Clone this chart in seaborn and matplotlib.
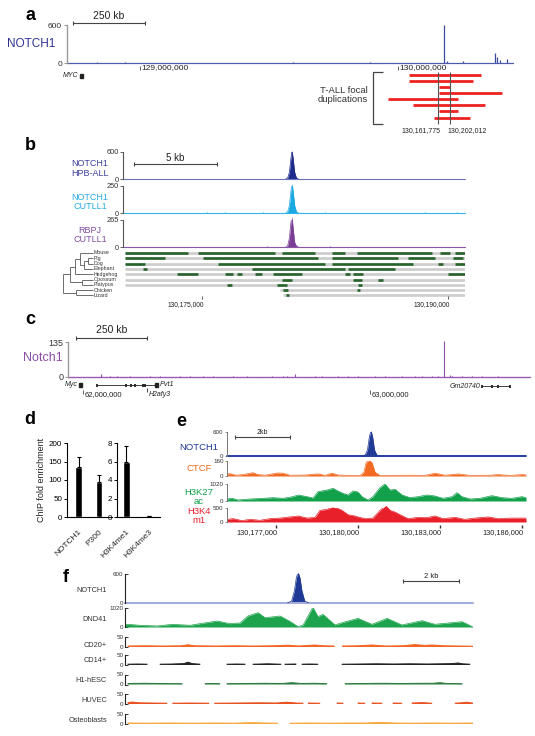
import numpy as np
import pandas as pd
import matplotlib
matplotlib.use("Agg")
import matplotlib.pyplot as plt
from matplotlib.patches import Rectangle
import seaborn as sns

sns.set_theme(style="white")
plt.rcParams["font.family"] = ["Liberation Sans", "DejaVu Sans"]

nan = np.nan

# ======================= DATA =======================
# (a) NOTCH1 ChIP-seq, human chr8 (Mb, signal)
a_pos = [128.833, 128.942, 128.992, 129.593, 129.744, 129.891, 130.178, 130.190, 130.252, 130.376, 130.384, 130.395, 130.422]
a_val = [8, 8, 6, 8, 6, 8, 600, 32, 25, 163, 90, 40, 58]
a_ticks = [129.0, 130.0]
a_ticklabels = ["129,000,000", "130,000,000"]
a_myc = (128.767, 128.779)
# T-ALL focal duplications (Mb)
dup_row = [1, 2, 3, 4, 5, 6, 7, 8]
dup_start = [130.064, 130.064, 130.165, 130.165, 129.994, 130.078, 130.165, 130.148]
dup_end = [130.306, 130.279, 130.202, 130.377, 130.229, 130.319, 130.229, 130.269]
dup_marks = [130.161775, 130.202012]
dup_labels = ["130,161,775", "130,202,012"]

# (b) ChIP-seq tracks (kb)
b_names = ["NOTCH1\nHPB-ALL", "NOTCH1\nCUTLL1", "RBPJ\nCUTLL1"]
b_max = [600, 250, 265]
b_peak_x = [130180.10, 130180.22, 130180.33, 130180.42, 130180.49, 130180.56, 130180.65, 130180.76, 130180.88]
b_peak_y = [[0, 20, 150, 450, 640, 450, 150, 20, 0],
            [0, 10, 70, 200, 275, 200, 70, 10, 0],
            [0, 10, 90, 240, 300, 180, 45, 8, 0]]
b_bump_x = [[], [130175.30, 130176.40, 130178.72, 130182.50, 130188.60, 130190.55], [130178.96, 130182.80]]
b_bump_y = [[], [8, 8, 8, 8, 10, 10], [8, 8]]
b_ticks = [130175.0, 130190.0]
b_ticklabels = ["130,175,000", "130,190,000"]
species = ["Mouse", "Pig", "Dog", "Elephant", "Hedgehog", "Opossum", "Platypus", "Chicken", "Lizard"]
align_start = [130170.30, 130170.30, 130170.30, 130170.30, 130170.30, 130170.30, 130170.30, 130179.76, 130179.94]
cons_blocks = {
    "Mouse": [(130170.30, 130174.15), (130174.76, 130179.45), (130179.88, 130181.89), (130182.93, 130183.72),
              (130184.45, 130189.02), (130189.51, 130190.12), (130190.43, 130191.04)],
    "Pig": [(130170.30, 130172.74), (130175.06, 130182.07), (130182.93, 130186.95), (130187.56, 130189.21),
            (130190.30, 130190.91)],
    "Dog": [(130170.30, 130171.52), (130175.98, 130182.50), (130182.93, 130187.87), (130189.39, 130189.70),
            (130190.43, 130191.04)],
    "Elephant": [(130171.40, 130171.65), (130178.05, 130183.72), (130183.90, 130186.77)],
    "Hedgehog": [(130173.48, 130174.76), (130176.40, 130176.89), (130177.13, 130177.44), (130178.23, 130178.66),
                 (130179.33, 130181.10), (130183.72, 130184.02), (130184.21, 130184.82), (130190.00, 130191.04)],
    "Opossum": [(130179.88, 130180.49), (130184.21, 130184.76), (130185.73, 130186.04)],
    "Platypus": [(130176.52, 130176.83), (130179.57, 130180.18), (130184.51, 130184.76)],
    "Chicken": [(130179.94, 130180.24), (130184.45, 130184.63)],
    "Lizard": [(130180.12, 130180.30)],
}

# (c) mouse Notch1 ChIP-seq (Mb)
c_pos = [62.063, 62.094, 62.118, 62.164, 62.233, 62.268, 62.338, 62.373, 62.418, 62.453, 62.523, 62.571,
         62.659, 62.697, 62.711, 62.739, 62.808, 62.833, 62.889, 62.923, 62.958, 63.017, 63.052, 63.111,
         63.157, 63.181, 63.216, 63.237, 63.258, 63.279, 63.286, 63.321, 63.355, 63.390, 63.446]
c_val = [12, 3, 4, 3, 4, 3, 4, 3, 4, 3, 4, 3,
         3, 4, 3, 11, 4, 3, 4, 3, 4, 3, 4, 3,
         4, 3, 4, 3, 140, 8, 4, 3, 4, 3, 3]
c_ticks = [62.0, 63.0]
c_ticklabels = ["62,000,000", "63,000,000"]
c_myc = (61.986, 61.997)
pvt1_span = (62.049, 62.252)
pvt1_exons = [62.049, 62.150, 62.167, 62.181, 62.209, 62.216]
pvt1_last = (62.250, 62.260)
h2afy3_pos = 62.223
gm_span = (63.390, 63.488)
gm_exons = [63.390, 63.425, 63.446, 63.488]

# (d) ChIP-qPCR fold enrichment
d_left_names = ["NOTCH1", "P300"]
d_left_vals = [136, 95.5]
d_left_err = [26, 17.5]
d_right_names = ["H3K4me1", "H3K4me3"]
d_right_vals = [5.95, 0.06]
d_right_err = [1.75, 0.0]

# (e) tracks (kb)
e_names = ["NOTCH1", "CTCF", "H3K27\nac", "H3K4\nm1"]
e_max = [600, 160, 1020, 500]
e_notch_x = [130180.17, 130180.27, 130180.35, 130180.42, 130180.48, 130180.54, 130180.61, 130180.69, 130180.79]
e_notch_y = [0, 30, 150, 480, 640, 480, 150, 30, 0]
e_ctcf_x = [130175.21, 130175.32, 130175.54, 130175.79, 130176.16, 130176.34, 130176.60, 130177.04, 130177.26,
            130177.51, 130178.06, 130178.50, 130178.61, 130178.79, 130179.05, 130179.27, 130179.71, 130180.08,
            130180.22, 130180.30, 130180.41, 130180.52, 130180.63, 130180.81, 130181.18, 130181.91, 130182.46,
            130182.82, 130183.19, 130183.67, 130184.11, 130184.84, 130185.13, 130185.57, 130186.01, 130186.16]
e_ctcf_y = [22, 25, 8, 15, 35, 15, 8, 32, 30,
            8, 10, 22, 20, 6, 30, 10, 6, 5,
            40, 140, 170, 140, 40, 5, 6, 8, 6,
            30, 8, 22, 6, 8, 15, 6, 15, 12]
e_k27_x = [130175.21, 130175.39, 130175.61, 130176.05, 130176.52, 130176.89, 130177.26, 130177.62, 130177.81,
           130178.14, 130178.36, 130178.54, 130178.87, 130179.09, 130179.27, 130179.45, 130179.64, 130179.82,
           130180.00, 130180.15, 130180.37, 130180.55, 130180.81, 130180.99, 130181.18, 130181.36, 130181.62,
           130181.91, 130182.20, 130182.53, 130182.82, 130183.12, 130183.45, 130183.63, 130183.81, 130184.11,
           130184.47, 130184.91, 130185.28, 130185.64, 130186.01, 130186.16]
e_k27_y = [120, 160, 60, 120, 160, 200, 160, 260, 360,
           260, 180, 560, 660, 760, 600, 460, 360, 600,
           540, 260, 60, 260, 800, 1020, 660, 700, 360,
           200, 260, 360, 300, 160, 260, 500, 260, 120,
           160, 320, 200, 160, 260, 200]
e_k4_x = [130175.21, 130175.43, 130175.75, 130176.05, 130176.41, 130176.78, 130177.15, 130177.51, 130177.81,
          130178.14, 130178.43, 130178.61, 130178.87, 130179.05, 130179.23, 130179.42, 130179.64, 130179.89,
          130180.00, 130180.26, 130180.55, 130180.81, 130181.03, 130181.18, 130181.36, 130181.54, 130181.84,
          130182.20, 130182.53, 130182.82, 130183.12, 130183.56, 130183.92, 130184.29, 130184.77, 130185.13,
          130185.64, 130186.16]
e_k4_y = [95, 120, 50, 95, 60, 120, 140, 180, 215,
          140, 165, 415, 450, 535, 500, 415, 260, 215,
          180, 120, 140, 415, 595, 415, 355, 260, 120,
          165, 155, 215, 120, 165, 95, 140, 180, 120,
          140, 140]
e_ticks = [130177.0, 130180.0, 130183.0, 130186.0]
e_ticklabels = ["130,177,000", "130,180,000", "130,183,000", "130,186,000"]

# (f) tracks (kb from window start)
f_names = ["NOTCH1", "DND41", "CD20+", "CD14+", "H1-hESC", "HUVEC", "Osteoblasts"]
f_max = [600, 1020, 50, 50, 50, 50, 50]
f_notch_x = [5.80, 5.95, 6.05, 6.12, 6.18, 6.25, 6.32, 6.42, 6.56]
f_notch_y = [0, 40, 250, 520, 640, 520, 250, 40, 0]
f_dnd_x = [0.00, 0.11, 0.54, 1.14, 1.71, 2.32, 2.68, 3.29, 3.75, 4.11, 4.39, 4.75, 5.00, 5.54, 5.89, 6.18,
           6.36, 6.71, 6.89, 7.07, 7.50, 7.75, 8.32, 8.82, 9.36, 9.89, 10.61, 11.07, 12.04, 12.43]
f_dnd_y = [120, 145, 90, 55, 145, 90, 180, 320, 180, 215, 590, 770, 500, 590, 300, 20,
           100, 1060, 555, 680, 110, 230, 465, 145, 465, 110, 340, 145, 285, 0]
cd20_x = [0.10, 0.70, 1.40, 2.00, 2.25, 2.50, 3.20, 3.90, 4.60, 5.30, 5.82, 6.20, 6.79, 7.10, 7.48, nan,
          7.76, 8.30, 8.82, 9.30, 9.90, 10.36, 10.70, 10.96, 11.40, 12.00, 12.43]
cd20_y = [5, 6, 5, 6, 11, 6, 5, 6, 5, 6, 9, 5, 10, 6, 5, nan,
          5, 6, 10, 5, 6, 12, 8, 10, 6, 5, 4]
cd14_x = [0.10, 0.45, 0.79, nan, 1.25, 1.70, 2.10, 2.25, 2.40, 2.68, nan, 3.64, 4.00, 4.29, nan,
          4.57, 5.10, 5.57, nan, 5.71, 6.11, nan, 6.32, 6.60, 6.89, nan,
          7.75, 8.40, 9.00, 9.60, 10.20, 10.80, 11.30, 11.70, 11.89, 12.05, 12.32]
cd14_y = [4, 5, 4, nan, 4, 5, 7, 14, 7, 4, nan, 4, 5, 4, nan,
          4, 6, 4, nan, 4, 5, nan, 4, 5, 4, nan,
          4, 5, 6, 5, 6, 5, 6, 7, 10, 6, 4]
h1_x = [0.10, 0.70, 1.30, 2.04, nan, 2.86, 3.10, 3.39, nan, 3.64, 4.30, 5.00, 5.60, 5.96, 6.30, 6.80, 7.21,
        nan, 7.86, 8.50, 9.20, 9.90, 10.60, 11.00, 11.25, 11.50, 12.04]
h1_y = [5, 6, 5, 4, nan, 4, 5, 4, nan, 4, 5, 6, 5, 9, 5, 6, 4,
        nan, 4, 5, 6, 5, 6, 6, 9, 5, 4]
hu_x = [0.10, 0.25, 0.50, 1.00, 1.50, nan, 1.70, 2.30, 3.00, nan, 3.20, 4.00, 4.80, 5.40, 5.79, 6.10, 6.36,
        nan, 6.54, 6.96, nan, 7.57, 7.79, nan, 8.32, 8.57, nan, 8.82, 9.18, nan, 9.57, 9.89, nan,
        10.25, 10.60, 10.96, nan, 11.79, 12.00, 12.21, 12.43]
hu_y = [6, 10, 6, 5, 4, nan, 4, 5, 4, nan, 4, 5, 6, 5, 9, 5, 4,
        nan, 5, 4, nan, 5, 4, nan, 5, 4, nan, 5, 4, nan, 5, 4, nan,
        5, 7, 4, nan, 4, 6, 9, 4]
os_x = [0.10, 0.80, 1.60, 2.40, 3.20, 3.90, 4.54, 5.00, 5.46, nan, 5.89, 6.60, 7.30, 8.00, 8.60, 9.11,
        9.60, 10.30, 11.00, 11.70, 12.43]
os_y = [5, 4, 5, 4, 5, 4, 7, 5, 4, nan, 4, 5, 4, 5, 5, 8,
        5, 4, 5, 4, 5]

# ======================= FIGURE =======================
W, H = 535, 736
fig = plt.figure(figsize=(W / 100, H / 100), dpi=100)
ov = fig.add_axes([0, 0, 1, 1], zorder=10)
ov.set_xlim(0, W)
ov.set_ylim(H, 0)
ov.axis("off")


def T(x, y, s, **kw):
    kw.setdefault("ha", "center")
    kw.setdefault("va", "center")
    kw.setdefault("color", "#222222")
    ov.text(x, y, s, **kw)


def L(xs, ys, color="#444444", lw=0.8):
    ov.plot(xs, ys, color=color, lw=lw, solid_capstyle="butt")


def add_ax(x0, y0, x1, y1):
    ax = fig.add_axes([x0 / W, 1 - y1 / H, (x1 - x0) / W, (y1 - y0) / H])
    ax.patch.set_visible(False)
    return ax


def track_ax(box, xlim, ymax, spine="#666666", direction="out", fs=5, tlen=2, lw=0.8):
    ax = add_ax(*box)
    ax.set_xlim(*xlim)
    ax.set_ylim(0, ymax)
    for s in ("top", "right", "bottom"):
        ax.spines[s].set_visible(False)
    ax.spines["left"].set_color(spine)
    ax.spines["left"].set_linewidth(lw)
    ax.set_xticks([])
    ax.set_yticks([0, ymax])
    ax.set_yticklabels(["0", str(ymax)])
    ax.tick_params(axis="y", left=True, direction=direction, length=tlen, width=lw * 0.8,
                   color=spine, labelsize=fs, pad=1, labelcolor="#333333")
    return ax


def scalebar(x0, x1, y, text, fs, ty):
    L([x0, x1], [y, y])
    L([x0, x0], [y - 2, y + 2])
    L([x1, x1], [y - 2, y + 2])
    T((x0 + x1) / 2, ty, text, fontsize=fs)


def mapper(box, xlim):
    return lambda v: box[0] + (v - xlim[0]) / (xlim[1] - xlim[0]) * (box[2] - box[0])


# ---------- panel a ----------
a_box = (67, 25, 513, 63)
a_xlim = (128.717, 130.446)
ga = mapper(a_box, a_xlim)
axa = track_ax(a_box, a_xlim, 600, spine="#9a9a9a", fs=6, tlen=2.5, lw=1.0)
axa.axhline(0, color="#4D5BA9", lw=0.9, clip_on=False)
axa.vlines(a_pos, 0, a_val, color="#3B4A9E", lw=0.9)
T(30, 15, "a", fontsize=13, fontweight="bold", color="black")
T(31, 44, "NOTCH1", fontsize=8.5, color="#2E3192")
scalebar(73, 145, 23, "250 kb", 7.5, 16)
for v, lab in zip(a_ticks, a_ticklabels):
    x = ga(v)
    L([x, x], [66, 70], lw=0.6)
    T(x + 1.5, 68, lab, ha="left", fontsize=6)
ov.add_patch(Rectangle((ga(a_myc[0]), 73.5), ga(a_myc[1]) - ga(a_myc[0]), 4, color="#222222"))
T(ga(a_myc[0]) - 1.5, 75.5, "MYC", ha="right", fontsize=5, style="italic")

dx = add_ax(380, 72, 512, 120.56)
dx.set_xlim(129.967, 130.410)
dx.set_ylim(8.5, 0.5)
dx.axis("off")
dx.hlines(dup_row, dup_start, dup_end, color="#EE2222", lw=2.0, zorder=2)
dx.vlines(dup_marks, 0.5, 9.1, color="#555555", lw=0.8, zorder=3, clip_on=False)
dx.text(dup_marks[0] + 0.007, 10.1, dup_labels[0], ha="right", va="center", fontsize=5, color="#222222")
dx.text(dup_marks[1] - 0.007, 10.1, dup_labels[1], ha="left", va="center", fontsize=5, color="#222222")
L([383, 373, 373, 383], [72, 72, 124, 124], lw=0.9)
T(368, 95, "T-ALL focal\nduplications", ha="right", fontsize=6.8, linespacing=1.0, color="#333333")

# ---------- panel b ----------
b_xlim = (130170.18, 130191.04)
b_boxes = [(123, 152, 465, 179), (123, 186, 465, 213), (123, 220, 465, 247)]
b_fill = ["#1F2B8C", "#1AA9E1", "#7B3F98"]
b_line = ["#6A72BA", "#35B4E8", "#8A55A8"]
b_text = ["#3B3F99", "#27AAE1", "#7E4A9E"]
b_label_y = [168.5, 201.7, 235.3]
gb = mapper(b_boxes[0], b_xlim)
T(30, 146, "b", fontsize=13, fontweight="bold", color="black")
for i in range(3):
    ax = track_ax(b_boxes[i], b_xlim, b_max[i], spine="#555555", fs=5.3, tlen=2)
    ax.axhline(0, color=b_line[i], lw=0.8, clip_on=False)
    ax.fill_between(b_peak_x, b_peak_y[i], color=b_fill[i], lw=0, clip_on=False)
    sns.lineplot(x=b_peak_x, y=b_peak_y[i], ax=ax, color=b_fill[i], lw=0.5, estimator=None, sort=False)
    if b_bump_x[i]:
        ax.vlines(b_bump_x[i], 0, b_bump_y[i], color=b_line[i], lw=0.8)
    ax.set_xlim(*b_xlim)
    ax.set_ylim(0, b_max[i])
    T(90, b_label_y[i], b_names[i], fontsize=6.5, color=b_text[i], linespacing=1.05)
scalebar(134, 217, 164, "5 kb", 7, 158)

row_y = {sp: 253 + 5.3 * k for k, sp in enumerate(species)}
cax = add_ax(123, 250.35, 465, 298.05)
cax.set_xlim(*b_xlim)
cax.set_ylim(8.5, -0.5)
cax.axis("off")
cax.hlines(list(range(len(species))), align_start, b_xlim[1], color="#cccccc", lw=1.9)
for k, sp in enumerate(species):
    for s, e in cons_blocks[sp]:
        cax.hlines(k, s, e, color="#27632A", lw=1.9)
    T(94, row_y[sp], sp, ha="left", fontsize=3.8, color="#333333")

tree = (63.3, (70, (75, (80, "Mouse", (84.3, (88.3, "Pig", "Dog"), "Elephant")), "Hedgehog"),
               (81.7, "Opossum", "Platypus")), (75.7, "Chicken", "Lizard"))


def draw_tree(node):
    if isinstance(node, str):
        return row_y[node], 92.5
    x, c1, c2 = node
    y1, x1 = draw_tree(c1)
    y2, x2 = draw_tree(c2)
    L([x, x1], [y1, y1], color="#555555", lw=0.6)
    L([x, x2], [y2, y2], color="#555555", lw=0.6)
    L([x, x], [y1, y2], color="#555555", lw=0.6)
    return (y1 + y2) / 2, x


draw_tree(tree)
for v, lab in zip(b_ticks, b_ticklabels):
    x = gb(v)
    L([x, x], [296, 299], lw=0.6)
    T(x + 2, 304.5, lab, ha="right", fontsize=4.8)

# ---------- panel c ----------
c_box = (68, 342, 530, 377)
c_xlim = (61.948, 63.5575)
gc = mapper(c_box, c_xlim)
axc = track_ax(c_box, c_xlim, 135, spine="#9a9a9a", fs=6.5, tlen=2.5, lw=1.0)
axc.axhline(0, color="#9A5BB5", lw=1.0, clip_on=False)
axc.vlines(c_pos, 0, c_val, color="#8E4FAA", lw=0.8, clip_on=False)
T(30, 320, "c", fontsize=13, fontweight="bold", color="black")
T(43, 358, "Notch1", fontsize=9, color="#8B4CA6")
scalebar(76, 147, 338, "250 kb", 7.5, 330)
gy = 385
ov.add_patch(Rectangle((gc(c_myc[0]), gy - 2), gc(c_myc[1]) - gc(c_myc[0]), 4, color="#222222"))
T(gc(c_myc[0]) - 1.5, gy, "Myc", ha="right", fontsize=5, style="italic")
L([gc(pvt1_span[0]), gc(pvt1_span[1])], [gy, gy], color="#222222", lw=0.6)
for e in pvt1_exons:
    L([gc(e), gc(e)], [gy - 1.5, gy + 1.5], color="#222222", lw=1.3)
ov.add_patch(Rectangle((gc(pvt1_last[0]), gy - 2), gc(pvt1_last[1]) - gc(pvt1_last[0]), 4, color="#222222"))
T(gc(pvt1_last[1]) + 2, gy, "Pvt1", ha="left", fontsize=5.2, style="italic")
L([gc(h2afy3_pos), gc(h2afy3_pos)], [388, 391.5], color="#222222", lw=0.6)
T(gc(h2afy3_pos) + 1.5, 395, "H2afy3", ha="left", fontsize=5, style="italic")
L([gc(gm_span[0]), gc(gm_span[1])], [gy + 1, gy + 1], color="#222222", lw=0.6)
for e in gm_exons:
    L([gc(e), gc(e)], [gy - 0.5, gy + 2.5], color="#222222", lw=1.3)
T(gc(gm_span[0]) - 1.5, gy + 1, "Gm20740", ha="right", fontsize=5, style="italic")
for v, lab in zip(c_ticks, c_ticklabels):
    x = gc(v)
    L([x, x], [390, 394], lw=0.6)
    T(x + 1.5, 395, lab, ha="left", fontsize=5.5)

# ---------- panel d ----------
T(30, 420, "d", fontsize=13, fontweight="bold", color="black")
d1 = add_ax(67, 443, 112, 517)
d2 = add_ax(117, 443, 160, 517)
for ax, names, vals, errs, xl, ymax, yt in (
        (d1, d_left_names, d_left_vals, d_left_err, (-0.56, 1.63), 200, [0, 50, 100, 150, 200]),
        (d2, d_right_names, d_right_vals, d_right_err, (-0.43, 1.52), 8, [0, 2, 4, 6, 8])):
    sns.barplot(x=names, y=vals, color="black", width=0.33, saturation=1, errorbar=None, ax=ax)
    ax.errorbar(range(len(vals)), vals, yerr=[[0] * len(vals), errs], fmt="none", ecolor="black",
                elinewidth=0.8, capsize=1.5, capthick=0.8)
    ax.set_xlim(*xl)
    ax.set_ylim(0, ymax)
    ax.set_yticks(yt)
    ax.set_xlabel("")
    ax.set_ylabel("")
    for s in ("top", "right"):
        ax.spines[s].set_visible(False)
    for s in ("left", "bottom"):
        ax.spines[s].set_color("black")
        ax.spines[s].set_linewidth(0.8)
    ax.tick_params(axis="y", left=True, direction="out", length=2.5, width=0.7, labelsize=5.8, pad=1,
                   colors="black")
    ax.tick_params(axis="x", bottom=False, pad=2)
    ax.set_xticks(range(len(names)))
    ax.set_xticklabels(names, rotation=45, ha="right", va="top", rotation_mode="anchor", fontsize=6)
T(42, 480, "ChIP fold enrichment", rotation=90, fontsize=6.5)

# ---------- panel e ----------
T(181, 421, "e", fontsize=13, fontweight="bold", color="black")
e_xlim = (130175.205, 130186.158)
e_boxes = [(227, 432, 526, 456), (227, 461, 526, 476), (227, 484, 526, 501), (227, 508, 526, 522)]
e_colors = ["#213A95", "#F26A21", "#12A04B", "#E8202A"]
e_label_y = [448, 468.5, 496.7, 516.3]
ge = mapper(e_boxes[0], e_xlim)
e_series = [(e_notch_x, e_notch_y), (e_ctcf_x, e_ctcf_y), (e_k27_x, e_k27_y), (e_k4_x, e_k4_y)]
for i in range(4):
    ax = track_ax(e_boxes[i], e_xlim, e_max[i], spine="#777777", fs=4.5, tlen=1.5, lw=0.7)
    xs, ys = e_series[i]
    if i == 0:
        ax.axhline(0, color="#2340A0", lw=1.4, clip_on=False)
    ax.fill_between(xs, ys, color=e_colors[i], lw=0, clip_on=False)
    sns.lineplot(x=xs, y=ys, ax=ax, color=e_colors[i], lw=0.5, estimator=None, sort=False)
    ax.set_xlim(*e_xlim)
    ax.set_ylim(0, e_max[i])
    T(199, e_label_y[i], e_names[i], fontsize=6.8, color=e_colors[i], linespacing=1.0)
scalebar(235, 290, 437, "2kb", 5, 432.5)
for v, lab in zip(e_ticks, e_ticklabels):
    x = ge(v)
    L([x, x], [524.5, 528], color="#333333", lw=1.0)
    T(x + 1.5, 532.5, lab, ha="right", fontsize=5.3)

# ---------- panel f ----------
T(66, 577, "f", fontsize=13, fontweight="bold", color="black")
f_xlim = (0, 12.43)
f_boxes = [(125, 574, 473, 603), (125, 608, 473, 627), (125, 637, 473, 647), (125, 655, 473, 665),
           (125, 674.5, 473, 684.5), (125, 694, 473, 704), (125, 714, 473, 724)]
f_label_y = [590, 619.3, 645.7, 661, 681, 701, 720.7]
f_colors = ["#1E3A96", "#1DA34B", "#F26522", "#222222", "#2A7A3B", "#E8501E", "#F8A640"]
f_small = [(cd20_x, cd20_y), (cd14_x, cd14_y), (h1_x, h1_y), (hu_x, hu_y), (os_x, os_y)]
for i in range(7):
    ax = track_ax(f_boxes[i], f_xlim, f_max[i], spine="#222222", direction="in", fs=4.5, tlen=2, lw=0.8)
    if i == 0:
        ax.axhline(0, color="#A5AEDB", lw=1.5, clip_on=False)
        ax.fill_between(f_notch_x, f_notch_y, color=f_colors[0], lw=0, clip_on=False)
        sns.lineplot(x=f_notch_x, y=f_notch_y, ax=ax, color=f_colors[0], lw=0.5, estimator=None, sort=False)
    elif i == 1:
        ax.fill_between(f_dnd_x, f_dnd_y, color=f_colors[1], lw=0, clip_on=False)
        sns.lineplot(x=f_dnd_x, y=f_dnd_y, ax=ax, color=f_colors[1], lw=0.5, estimator=None, sort=False)
    else:
        xs, ys = f_small[i - 2]
        ax.fill_between(xs, ys, color=f_colors[i], lw=0, clip_on=False)
        ax.plot(xs, ys, color=f_colors[i], lw=0.7)
    ax.set_xlim(*f_xlim)
    ax.set_ylim(0, f_max[i])
    T(107, f_label_y[i], f_names[i], ha="right", fontsize=5.3, color="#333333")
scalebar(403, 459, 581, "2 kb", 5.5, 576)

fig.savefig("out.png", dpi=100)
